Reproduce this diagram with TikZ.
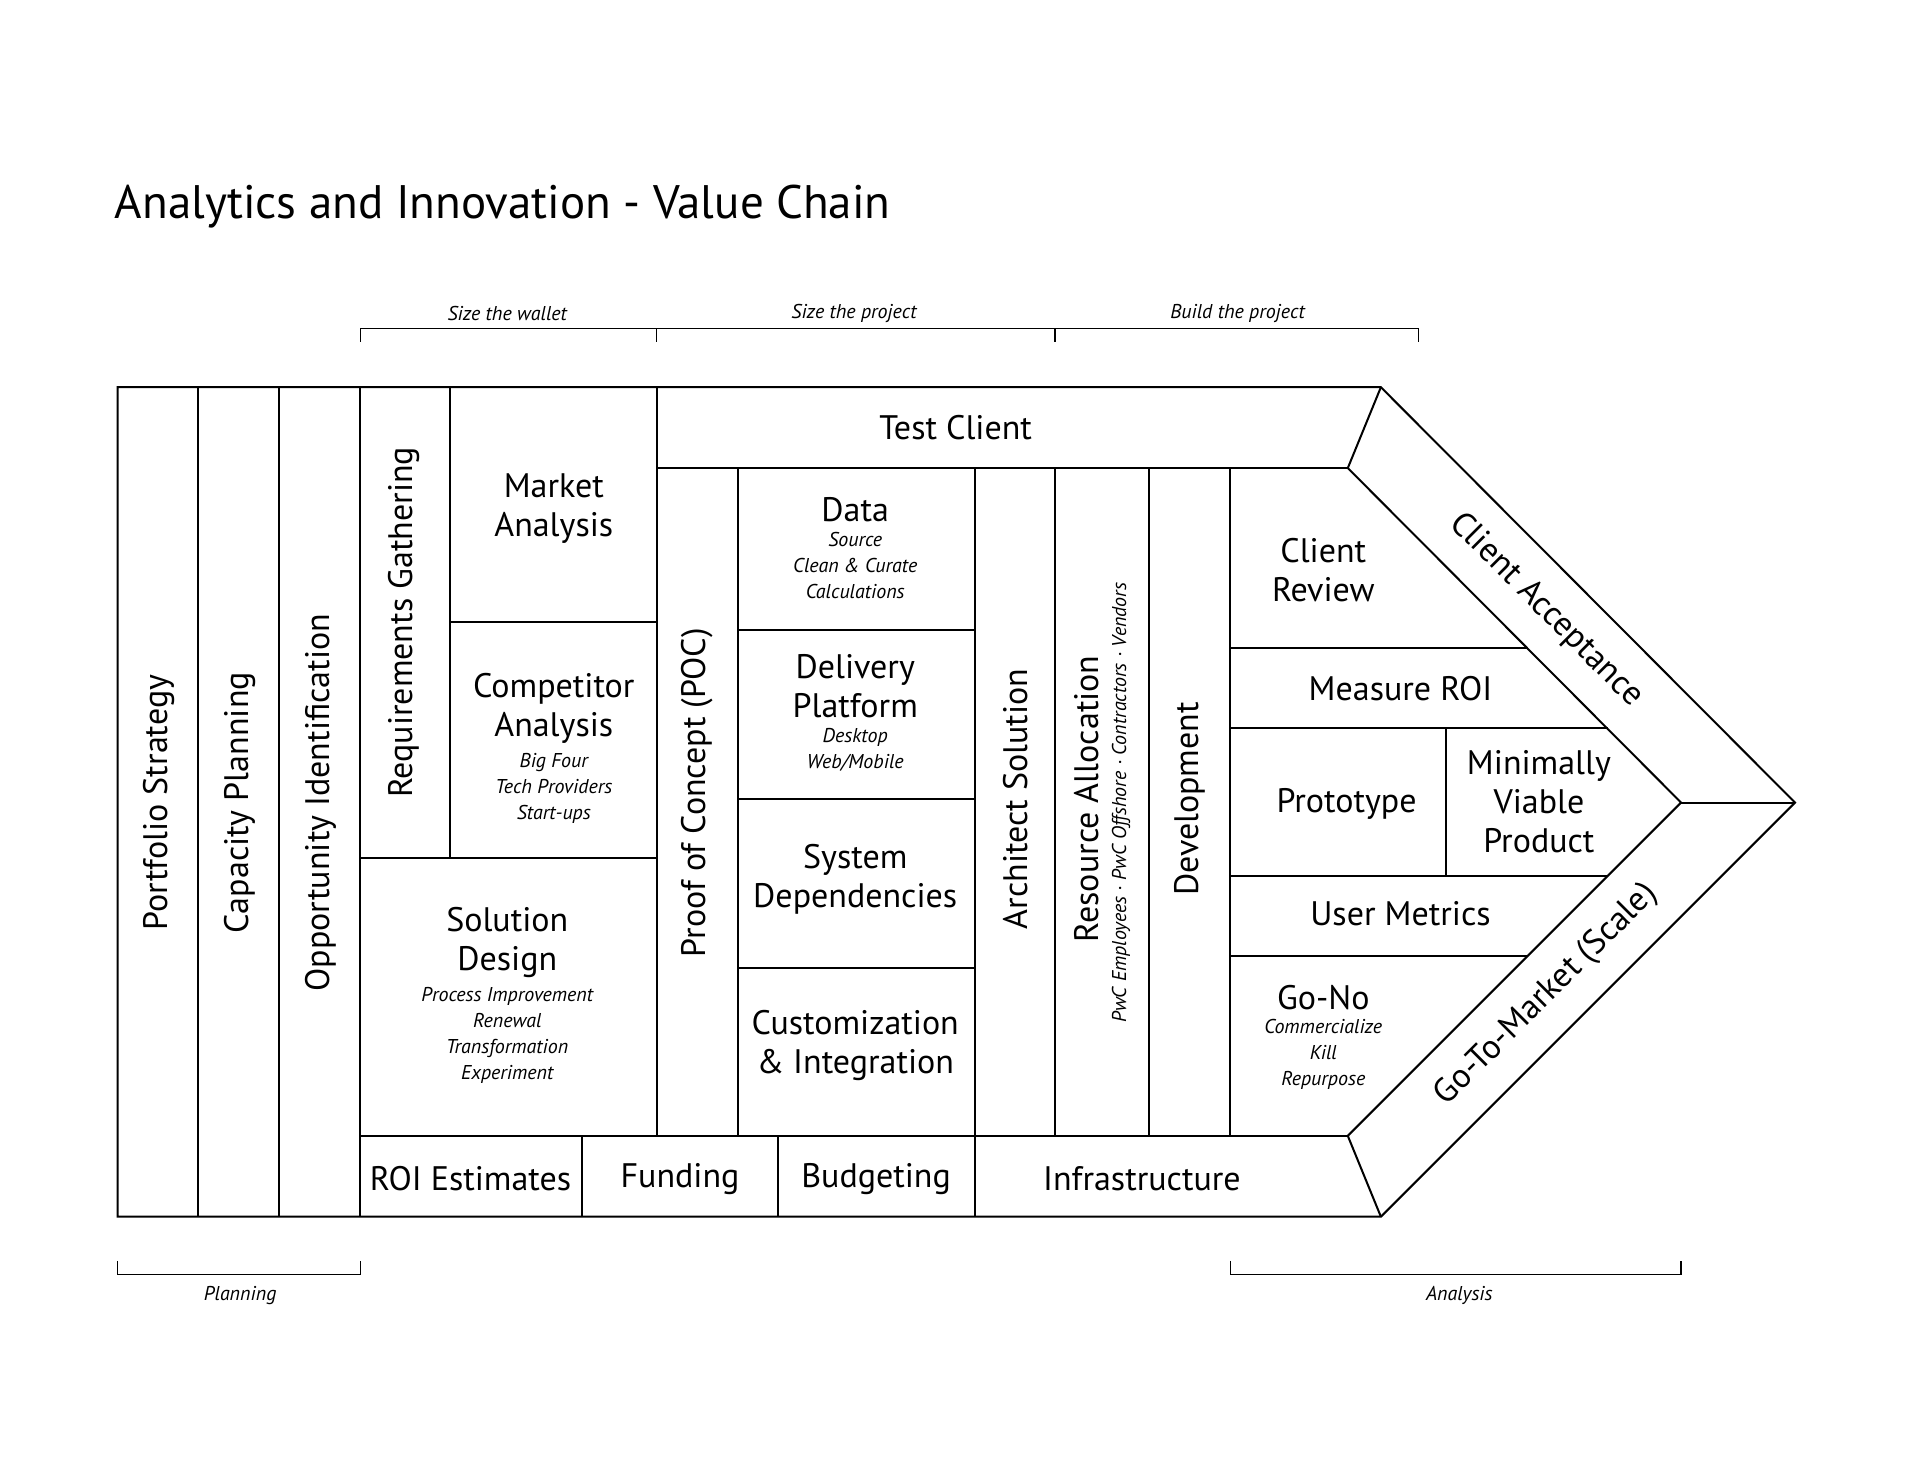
\documentclass[tikz,border=0pt]{standalone}
\usepackage{fontspec}
\setmainfont{PT Sans}
\usetikzlibrary{positioning}
\begin{document}
\begin{tikzpicture}[x=0.6125pt,y=-0.6125pt,line width=1pt,
  big/.style={font=\fontsize{17}{19.5}\selectfont,align=center,inner sep=0},
  sm/.style={font=\fontsize{10}{13}\selectfont\itshape,align=center,inner sep=0},
  br/.style={line width=0.6pt}]
\useasboundingbox (0,0) rectangle (1567,1210.6);
\node[anchor=west,inner sep=0,font=\fontsize{23.5}{26}\selectfont] (title) at (93,169) {Analytics and Innovation - Value Chain};
% outline
\draw (96,316) -- (1127,316) -- (1465,655) -- (1127,993) -- (96,993) -- cycle;
\draw (1127,316) -- (1100,382) -- (1372,655) -- (1100,927) -- (1127,993);
\draw (1372,655) -- (1465,655);
\foreach \x in {162,228,294} \draw (\x,316) -- (\x,993);
\draw (367,316) -- (367,700);
\draw (367,508) -- (536,508);
\draw (294,700) -- (536,700);
\draw (536,316) -- (536,927);
\draw (294,927) -- (1100,927);
\foreach \x in {475,635,796} \draw (\x,927) -- (\x,993);
\draw (536,382) -- (1100,382);
\foreach \x in {602,796,861,938,1004} \draw (\x,382) -- (\x,927);
\foreach \y in {514,652,790} \draw (602,\y) -- (796,\y);
\draw (1004,529) -- (1247,529);
\draw (1004,594) -- (1312,594);
\draw (1004,715) -- (1312,715);
\draw (1004,780) -- (1247,780);
\draw (1180,594) -- (1180,715);
% brackets
\draw[br] (294,279) -- (294,268) -- (1158,268) -- (1158,279);
\draw[br] (536,268) -- (536,279);
\draw[br] (861,268) -- (861,279);
\draw[br] (96,1029) -- (96,1040) -- (294,1040) -- (294,1029);
\draw[br] (1004,1029) -- (1004,1040) -- (1372,1040) -- (1372,1029);
\node[sm] (b1) at (414,256) {Size the wallet};
\node[sm] (b2) at (697,256) {Size the project};
\node[sm] (b3) at (1010,256) {Build the project};
\node[sm] (b4) at (196,1057) {Planning};
\node[sm] (b5) at (1191,1057) {Analysis};
% texts
\node[big,rotate=90] (ps) at (130,655) {Portfolio Strategy};
\node[big,rotate=90] (cp) at (196,655) {Capacity Planning};
\node[big,rotate=90] (oi) at (262,655) {Opportunity Identification};
\node[big,rotate=90] (rg) at (330,508) {Requirements Gathering};
\node[big] (ma) at (452,415) {Market\\Analysis};
\node[big] (ca) at (452,578) {Competitor\\Analysis};
\node[sm,below=4pt of ca] (ca2) {Big Four\\Tech Providers\\Start-ups};
\node[big] (sd) at (414,769) {Solution\\Design};
\node[sm,below=4pt of sd] (sd2) {Process Improvement\\Renewal\\Transformation\\Experiment};
\node[big,rotate=90] (poc) at (569,647) {Proof of Concept (POC)};
\node[big] (da) at (698,416) {Data};
\node[sm,below=4pt of da] (da2) {Source\\Clean \& Curate\\Calculations};
\node[big] (dp) at (698,560) {Delivery\\Platform};
\node[sm,below=4pt of dp] (dp2) {Desktop\\Web/Mobile};
\node[big] (sy) at (698,718) {System\\Dependencies};
\node[big] (cu) at (698,853) {Customization\\\& Integration};
\node[big,rotate=90] (ar) at (829,652) {Architect Solution};
\node[big,rotate=90] (ra) at (887,652) {Resource Allocation};
\node[sm,rotate=90] (ra2) at (915,655) {PwC Employees · PwC Offshore · Contractors · Vendors};
\node[big,rotate=90] (dv) at (971,652) {Development};
\node[big] (cr) at (1080,465) {Client\\Review};
\node[big] (mr) at (1143,562) {Measure ROI};
\node[big] (pr) at (1099,656) {Prototype};
\node[big] (mv) at (1256,654) {Minimally\\Viable\\Product};
\node[big] (um) at (1143,746) {User Metrics};
\node[big] (gn) at (1080,814) {Go-No};
\node[sm,below=4pt of gn] (gn2) {Commercialize\\Kill\\Repurpose};
\node[big,rotate=-45] (cla) at (1262,498) {Client Acceptance};
\node[big,rotate=45] (gtm) at (1262,812) {Go-To-Market (Scale)};
\node[big] (tc) at (780,349) {Test Client};
\node[big] (roi) at (384,962) {ROI Estimates};
\node[big] (fu) at (555,962) {Funding};
\node[big] (bu) at (715,962) {Budgeting};
\node[big] (inf) at (932,962) {Infrastructure};
\end{tikzpicture}
\end{document}
